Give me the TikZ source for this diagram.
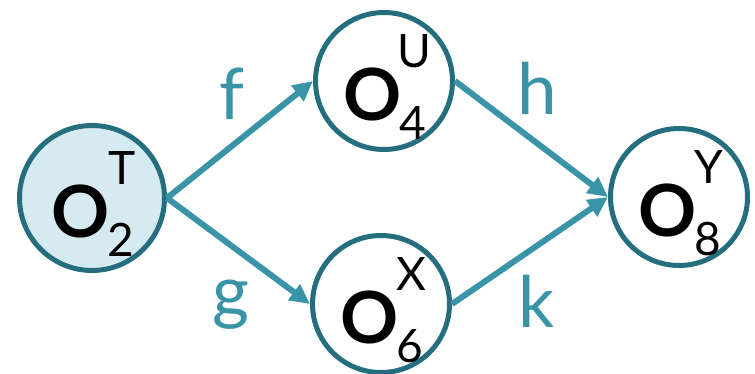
\documentclass[tikz,border=0pt]{standalone}
\usepackage{fontspec}
\setmainfont{Lato}
\usetikzlibrary{arrows.meta}
\definecolor{edgec}{HTML}{3A94A8}
\definecolor{ringc}{HTML}{256E7E}
\definecolor{fillc}{HTML}{D5EAF1}
\begin{document}
\begin{tikzpicture}[x=1pt,y=-1pt,
  state/.style={circle,draw=ringc,line width=5pt,minimum size=137pt,inner sep=0pt},
  bigo/.style={inner sep=0pt,anchor=center,font=\fontsize{72}{72}\selectfont\bfseries},
  idx/.style={inner sep=0pt,anchor=center,font=\fontsize{46}{46}\selectfont},
  elabel/.style={inner sep=0pt,anchor=base,text=edgec,font=\fontsize{71}{71}\selectfont},
  link/.style={draw=edgec,line width=6pt,-{Triangle[length=20pt,width=19pt]}}]
\useasboundingbox (0,0) rectangle (755,374);
\node[state,fill=fillc,minimum size=145pt] (o2) at (92,198) {};
\node[state] (o4) at (384,81) {};
\node[state] (o6) at (381,304) {};
\node[state] (o8) at (679,197) {};
\foreach \n/\s/\t in {o2/2/T,o4/4/U,o6/6/X,o8/8/Y}{
  \node[bigo] (\n m) at ([xshift=-11pt,yshift=-13pt]\n.center) {O};
  \node[idx] (\n s) at ([xshift=29pt,yshift=-42pt]\n.center) {\s};
  \node[idx] (\n t) at ([xshift=30pt,yshift=30pt]\n.center) {\t};
}
\draw[link] (o2.east) -- (o4.west);
\draw[link] (o2.east) -- (o6.west);
\draw[link] (o4.east) -- (o8.west);
\draw[link] (o6.east) -- (o8.west);
\node[elabel] (lf) at (232,120) {f};
\node[elabel] (lg) at (231,316) {g};
\node[elabel] (lh) at (537,115) {h};
\node[elabel] (lk) at (537,327) {k};
\end{tikzpicture}
\end{document}
